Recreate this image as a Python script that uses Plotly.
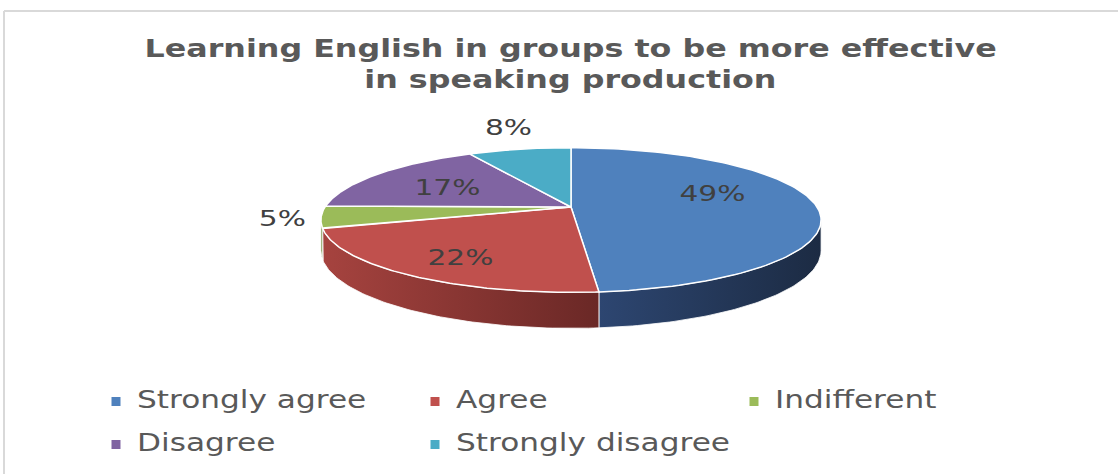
import json
import numpy as np
import plotly.graph_objects as go

# ---- data ----
title_lines = ["Learning English in groups to be more effective", "in speaking production"]
categories = ["Strongly agree", "Agree", "Indifferent", "Disagree", "Strongly disagree"]
percent = [49, 22, 5, 17, 8]
label_outside = [False, False, True, False, True]

# ---- style ----
top_colors = ["#4f81bd", "#c0504d", "#9bbb59", "#8064a2", "#4bacc6"]
side_colors = [("#2d4671", "#1c2b43"), ("#a6433f", "#6a2826"),
               ("#7d9747", "#6a803c"), ("#654f82", "#4f3e66"), ("#3a8aa0", "#2d6c7e")]
label_nudge = [(-10, -11), (-17, 11), (2, 0), (0, 2), (-8, 0)]
FONT = "DejaVu Sans"
W, H = 1118, 474

# pie geometry (pixel space)
CX, CY = 571, 207      # apex of the pie
RX, RY = 246, 70       # radii of the tilted disc
TILT = 0.18            # perspective strength
DEPTH = 29.5           # extrusion depth before perspective
LABEL_R = 0.62
SIDE_FROM, SIDE_TO = 90 + np.degrees(np.arcsin(TILT)), 270 - np.degrees(np.arcsin(TILT))

# legend layout
LEG_COL_X = [116, 435, 754]
LEG_ROW_Y = [400, 443]
LEG_TEXT_DX = 19

# horizontal text stretch per annotation (Calibri-like wide lettering)
STRETCH_TITLE, STRETCH_LEGEND, STRETCH_LABEL = 1.27, 1.3, 1.35


def project(theta_deg, r=1.0):
    t = np.radians(theta_deg)
    u, v = r * np.sin(t), -r * np.cos(t)
    s = 1.0 / (1.0 - TILT * v)
    return CX + RX * u * s, CY + RY * v * s, s


total = float(sum(percent))
bounds = np.concatenate([[0.0], np.cumsum(percent) / total * 360.0])

fig = go.Figure()
stretch = []

# side walls (front half of the disc)
for i, cat in enumerate(categories):
    a0, a1 = max(bounds[i], SIDE_FROM), min(bounds[i + 1], SIDE_TO)
    if a1 <= a0:
        continue
    th = np.linspace(a0, a1, 80)
    x, y, s = project(th)
    yb = y + DEPTH * s
    xs = np.concatenate([x, x[::-1], x[:1]])
    ys = np.concatenate([y, yb[::-1], y[:1]])
    c0, c1 = side_colors[i]
    fig.add_trace(go.Scatter(
        x=xs, y=ys, mode="lines", fill="toself",
        fillgradient=dict(type="horizontal", colorscale=[[0, c0], [1, c1]]),
        line=dict(color="rgba(255,255,255,0.8)", width=1),
        hoverinfo="skip", showlegend=False))

# top faces
for i, cat in enumerate(categories):
    th = np.linspace(bounds[i], bounds[i + 1], 120)
    x, y, _ = project(th)
    xs = np.concatenate([[CX], x, [CX]])
    ys = np.concatenate([[CY], y, [CY]])
    fig.add_trace(go.Scatter(
        x=xs, y=ys, mode="lines", fill="toself", fillcolor=top_colors[i],
        line=dict(color="white", width=1.5),
        name=cat, hoverinfo="name", showlegend=False))

# data labels
for i, p in enumerate(percent):
    mid = (bounds[i] + bounds[i + 1]) / 2
    dx, dy = label_nudge[i]
    if label_outside[i]:
        x, y, _ = project(mid)
        lx, ly = CX + (x - CX) * 1.06, CY + (y - CY) * 1.12
        if y < CY - 30:
            xanchor, yanchor = "center", "bottom"
        else:
            xanchor, yanchor = ("right" if x < CX else "left"), "middle"
    else:
        lx, ly, _ = project(mid, LABEL_R)
        xanchor, yanchor = "center", "middle"
    fig.add_annotation(x=lx + dx, y=ly + dy, text=f"{p}%", showarrow=False,
                       xanchor=xanchor, yanchor=yanchor,
                       font=dict(family=FONT, size=22, color="#404040"))
    stretch.append(STRETCH_LABEL)

# title
for k, line in enumerate(title_lines):
    fig.add_annotation(x=570, y=48 + 31 * k, text=f"<b>{line}</b>", showarrow=False,
                       xanchor="center", yanchor="middle",
                       font=dict(family=FONT, size=25, color="#595959"))
    stretch.append(STRETCH_TITLE)

# legend (two rows, three columns)
for i, cat in enumerate(categories):
    r, c = divmod(i, 3)
    fig.add_trace(go.Scatter(
        x=[LEG_COL_X[c]], y=[LEG_ROW_Y[r] + 1.5], mode="markers",
        marker=dict(symbol="square", size=9, color=top_colors[i]),
        hoverinfo="skip", showlegend=False))
    fig.add_annotation(x=LEG_COL_X[c] + LEG_TEXT_DX, y=LEG_ROW_Y[r], text=cat,
                       showarrow=False, xanchor="left", yanchor="middle",
                       font=dict(family=FONT, size=24, color="#595959"))
    stretch.append(STRETCH_LEGEND)

# chart frame
fig.add_shape(type="line", x0=4, y0=11, x1=W, y1=11, line=dict(color="#d9d9d9", width=2))
fig.add_shape(type="line", x0=4, y0=11, x1=4, y1=H, line=dict(color="#d9d9d9", width=2))

fig.update_layout(
    width=W, height=H, margin=dict(l=0, r=0, t=0, b=0),
    paper_bgcolor="white", plot_bgcolor="white",
    xaxis=dict(range=[0, W], visible=False, fixedrange=True),
    yaxis=dict(range=[H, 0], visible=False, fixedrange=True),
    showlegend=False,
)

# widen the lettering of each annotation around its anchor edge
post = """
var gd = document.getElementById('{plot_id}');
var k = %s;
var anns = gd._fullLayout.annotations;
gd.querySelectorAll('g.annotation').forEach(function (g) {
  var i = +g.getAttribute('data-index');
  var t = g.querySelector('text.annotation-text');
  if (!t || !anns[i]) return;
  var xa = anns[i].xanchor;
  var origin = xa === 'left' ? 'left center' : (xa === 'right' ? 'right center' : 'center');
  t.style.transformBox = 'fill-box';
  t.style.transformOrigin = origin;
  t.style.transform = 'scaleX(' + k[i] + ')';
});
""" % json.dumps(stretch)

fig.write_html("out.html", post_script=post)
